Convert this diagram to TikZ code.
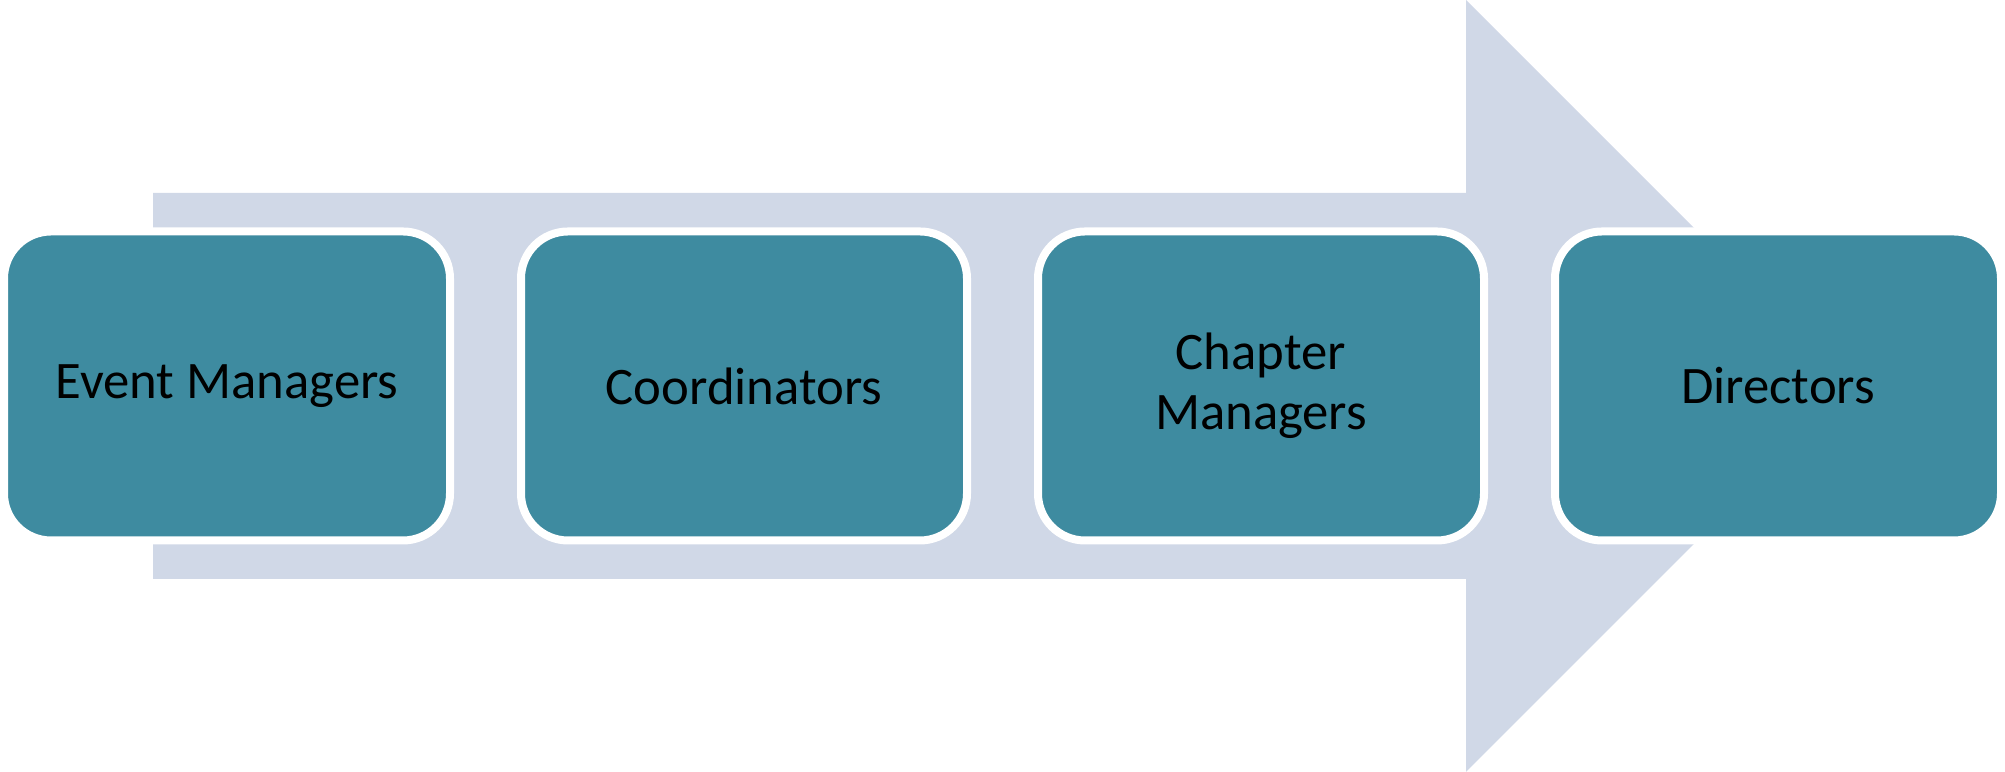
\documentclass[tikz,border=0pt]{standalone}
\usepackage{fontspec}
\setmainfont{Carlito}
\usetikzlibrary{positioning}
\definecolor{stagefill}{RGB}{62,139,160}
\definecolor{arrowfill}{RGB}{208,216,231}
\tikzset{
  stage/.style={rectangle, rounded corners=0.47cm, fill=stagefill, draw=white,
    line width=0.08cm, outer sep=0pt, minimum width=4.46cm, minimum height=3.09cm,
    align=center, font=\fontsize{15}{17}\selectfont}
}
\begin{document}
\begin{tikzpicture}
\def\bigarrow{(1.53,5.79) -- (14.66,5.79) -- (14.66,7.72) -- (18.52,3.86)
  -- (14.66,0) -- (14.66,1.93) -- (1.53,1.93) -- cycle}

\useasboundingbox (0,0) rectangle (20.05,7.72);
\fill[arrowfill] \bigarrow;

\node[stage] (event) at (2.27,3.86) {Event Managers};
\node[stage, right=0.71cm of event] (coord) {Coordinators};
\node[stage, right=0.71cm of coord] (chapter) {Chapter\\Managers};
\node[stage, right=0.71cm of chapter] (dir) {Directors};
\end{tikzpicture}
\end{document}
